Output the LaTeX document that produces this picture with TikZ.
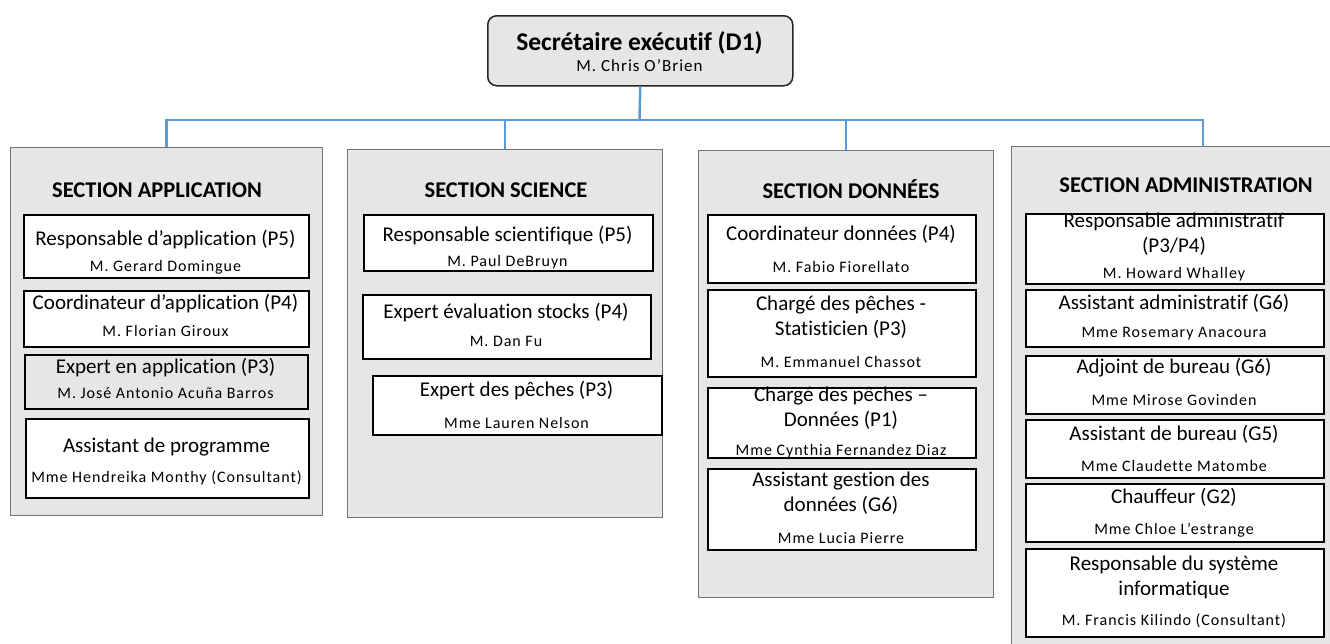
\documentclass[tikz,border=0pt]{standalone}
\usepackage{fontspec}
\setmainfont{Carlito}[Ligatures=NoCommon]
\newfontfamily\namefont{Carlito}[LetterSpace=6,Ligatures=NoCommon]
\usetikzlibrary{positioning}
\definecolor{panelgray}{HTML}{E6E6E6}
\definecolor{linkblue}{HTML}{5B9BD5}
\tikzset{
  chiefbox/.style={
    rectangle,
    draw=black!85,
    line width=1.5pt,
    fill=panelgray,
    rounded corners=9pt,
    anchor=north west,
    inner sep=0pt,
  },
  panel/.style={
    rectangle,
    draw=black!55,
    line width=1pt,
    fill=panelgray,
    anchor=north west,
    inner sep=0pt,
  },
  post/.style={
    rectangle,
    draw=black,
    line width=1.8pt,
    fill=white,
    anchor=north west,
    inner sep=0pt,
  },
  grey post/.style={post, fill=panelgray},
  chieftitle/.style={font=\fontsize{25.5}{30}\selectfont\bfseries, inner sep=0pt},
  sectitle/.style={font=\fontsize{22.5}{26}\selectfont\bfseries, inner sep=0pt},
  role/.style={font=\fontsize{21}{25}\selectfont, align=center, inner sep=0pt},
  who/.style={font={\namefont\fontsize{16}{19}\selectfont}, inner sep=0pt},
  link/.style={draw=linkblue, line width=2.5pt},
}

\begin{document}
\begin{tikzpicture}[x=1pt,y=-1pt]
  \useasboundingbox (0,0) rectangle (1330,643);

  % executive secretary
  \node[chiefbox, minimum width=305, minimum height=70] (chief) at (487,15) {};
  \node[chieftitle] (chiefr) at (639.5,43) {Secrétaire exécutif (D1)};
  \node[who, font={\namefont\fontsize{17}{20}\selectfont}] (chiefn) at (639.5,66) {M. Chris O’Brien};

  % sections
  \node[panel, minimum width=312, minimum height=368] (app) at (10,147) {};
  \node[panel, minimum width=315, minimum height=368] (sci) at (347,149) {};
  \node[panel, minimum width=295, minimum height=447] (dat) at (698,150) {};
  \node[panel, minimum width=322, minimum height=510] (adm) at (1011,146) {};

  \node[sectitle] (appt) at (157,190) {SECTION APPLICATION};
  \node[sectitle] (scit) at (506,190) {SECTION SCIENCE};
  \node[sectitle] (datt) at (851,189) {SECTION DONNÉES};
  \node[sectitle] (admt) at (1186,185) {SECTION ADMINISTRATION};

  % links
  \coordinate (bus) at (639.5,120);
  \coordinate (admtop) at (1203,146);
  \draw[link] (chief.south) -- (bus);
  \draw[link] (app.north) |- (bus) -| (admtop);
  \draw[link] (sci.north) -- (sci.north |- bus);
  \draw[link] (dat.north) -- (dat.north |- bus);

  % application
  \node[post, minimum width=285, minimum height=63] (a1) at (23,214) {};
  \node[role] (a1r) at (165.5,240) {Responsable d’application (P5)};
  \node[who] (a1n) at (165.5,267) {M. Gerard Domingue};
  \node[post, minimum width=285, minimum height=56] (a2) at (23,290) {};
  \node[role] (a2r) at (165.5,304) {Coordinateur d’application (P4)};
  \node[who] (a2n) at (165.5,331) {M. Florian Giroux};
  \node[grey post, minimum width=283, minimum height=54] (a3) at (24,354) {};
  \node[role] (a3r) at (165.5,368) {Expert en application (P3)};
  \node[who] (a3n) at (165.5,393) {M. José Antonio Acuña Barros};
  \node[post, minimum width=283, minimum height=79] (a4) at (25,418) {};
  \node[role] (a4r) at (166.5,447) {Assistant de programme};
  \node[who] (a4n) at (166.5,478) {Mme Hendreika Monthy (Consultant)};

  % science
  \node[post, minimum width=289, minimum height=56] (s1) at (363,214) {};
  \node[role] (s1r) at (507.5,236) {Responsable scientifique (P5)};
  \node[who] (s1n) at (507.5,262) {M. Paul DeBruyn};
  \node[post, minimum width=288, minimum height=64] (s2) at (362,294) {};
  \node[role] (s2r) at (506,313) {Expert évaluation stocks (P4)};
  \node[who] (s2n) at (506,341) {M. Dan Fu};
  \node[post, minimum width=289, minimum height=59] (s3) at (372,375) {};
  \node[role] (s3r) at (516.5,391) {Expert des pêches (P3)};
  \node[who] (s3n) at (516.5,423) {Mme Lauren Nelson};

  % donnees
  \node[post, minimum width=268, minimum height=68] (d1) at (707,214) {};
  \node[role] (d1r) at (841,234) {Coordinateur données (P4)};
  \node[who] (d1n) at (841,267) {M. Fabio Fiorellato};
  \node[post, minimum width=268, minimum height=87] (d2) at (707,289) {};
  \node[role] (d2r) at (841,317.5) {Chargé des pêches -\\Statisticien (P3)};
  \node[who] (d2n) at (841,362) {M. Emmanuel Chassot};
  \node[post, minimum width=268, minimum height=70] (d3) at (707,387) {};
  \node[role] (d3r) at (841,408.5) {Chargé des pêches –\\Données (P1)};
  \node[who] (d3n) at (841,451) {Mme Cynthia Fernandez Diaz};
  \node[post, minimum width=268, minimum height=81] (d4) at (707,468) {};
  \node[role] (d4r) at (841,493.5) {Assistant gestion des\\données (G6)};
  \node[who] (d4n) at (841,538) {Mme Lucia Pierre};

  % administration
  \node[post, minimum width=298, minimum height=70] (m1) at (1025,213) {};
  \node[role] (m1r) at (1174,234.5) {Responsable administratif\\(P3/P4)};
  \node[who] (m1n) at (1174,274) {M. Howard Whalley};
  \node[post, minimum width=298, minimum height=57] (m2) at (1025,289) {};
  \node[role] (m2r) at (1174,303) {Assistant administratif (G6)};
  \node[who] (m2n) at (1174,334) {Mme Rosemary Anacoura};
  \node[post, minimum width=298, minimum height=58] (m3) at (1025,355) {};
  \node[role] (m3r) at (1174,368) {Adjoint de bureau (G6)};
  \node[who] (m3n) at (1174,400) {Mme Mirose Govinden};
  \node[post, minimum width=298, minimum height=58] (m4) at (1025,419) {};
  \node[role] (m4r) at (1174,434) {Assistant de bureau (G5)};
  \node[who] (m4n) at (1174,466) {Mme Claudette Matombe};
  \node[post, minimum width=298, minimum height=58] (m5) at (1025,483) {};
  \node[role] (m5r) at (1174,497) {Chauffeur (G2)};
  \node[who] (m5n) at (1174,530) {Mme Chloe L’estrange};
  \node[post, minimum width=298, minimum height=88] (m6) at (1025,548) {};
  \node[role] (m6r) at (1174,577.5) {Responsable du système\\informatique};
  \node[who] (m6n) at (1174,621) {M. Francis Kilindo (Consultant)};
\end{tikzpicture}
\end{document}
